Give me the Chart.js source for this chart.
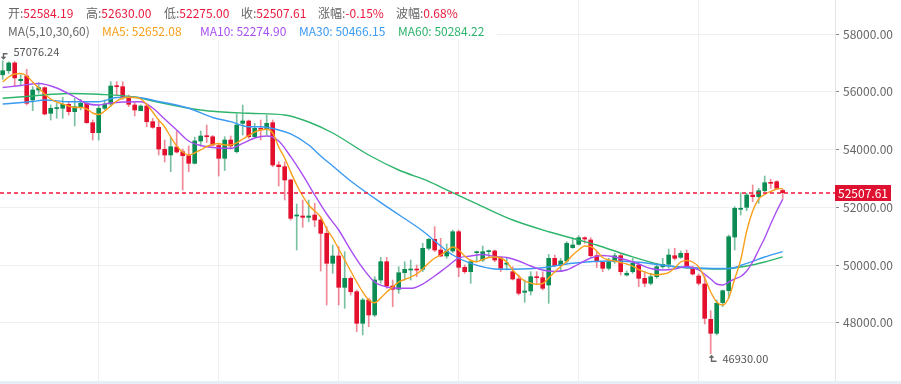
<!DOCTYPE html>
<html><head><meta charset="utf-8">
<script src="https://cdn.jsdelivr.net/npm/chart.js@4.4.1/dist/chart.umd.min.js"></script>
<style>html,body{margin:0;padding:0;background:#fff;}#wrap{width:901px;height:384px;position:relative;}</style>
</head><body><div id="wrap"><canvas id="c" width="901" height="384"></canvas></div>
<script>
// ---------- data ----------
const opens=[56590,56730,57000,56385,56547,55716,56062,56142,55255,55420,
 55429,55567,55311,55484,55602,54930,54584,55429,55578,56201,
 56177,55796,55543,55345,55508,54965,54770,54009,53811,54088,
 53925,53787,53524,54296,54469,54445,54140,53697,54331,53925,
 54909,54989,54445,54736,54701,54930,53465,53407,52946,51699,
 51699,51654,51734,51560,51100,50061,50314,49229,49541,49077,
 47983,48790,48271,49483,50116,49275,49160,49735,49829,49853,
 49853,50580,50892,50522,50314,50487,51155,49922,49770,50428,
 50175,50463,50487,50255,50030,49770,49517,49056,49102,49597,
 49562,49310,50234,49978,50140,50603,50718,50947,50868,50324,
 50095,49888,50116,50324,49656,49770,50002,49541,49368,49597,
 49943,50026,50324,50268,50407,49922,49621,49344,48121,47636,
 48700,49112,50970,51931,52000,52426,52368,52575,52852,52887,
 52584.19];
const highs=[57076.24,57040,57050,56590,56779,56177,56315,56177,55543,55602,
 55809,55657,55775,55740,55622,55023,55543,55716,56350,56350,
 56350,55889,55657,55543,55543,55082,55023,54331,54417,54642,
 54019,54123,54435,54642,54850,54487,54216,54445,54469,55231,
 55543,55023,54909,55023,55197,55023,53579,53579,52970,52114,
 52253,52253,52139,51619,51329,50695,50636,50463,49597,49136,
 48849,48849,49597,50268,50268,49483,49943,50116,50175,50002,
 50754,50927,51329,50927,50729,51214,51214,50002,50175,50487,
 50660,50522,50522,50290,50244,49943,49656,49483,49770,49770,
 49770,50372,50348,50234,50809,50927,51017,50982,50947,50463,
 50116,50234,50407,50372,49794,50234,50061,49770,49715,50061,
 50234,50556,50580,50487,50522,49967,49690,49621,48419,48790,
 49136,51041,52021,52506,52485,52773,52658,53084,52970,52921,
 52630];
const lows=[56430,56640,56200,56225,55543,55345,55948,55197,55023,55082,
 55082,55197,54816,55370,54909,54331,54331,55370,55484,55889,
 55740,55484,55162,55345,54791,54736,53811,53569,53233,53881,
 52599,53233,53500,54123,54244,54123,53084,53275,54019,53881,
 54504,54390,54417,54331,54504,53407,52738,52253,51560,50522,
 51308,51501,51329,49794,48617,49715,48617,48502,48963,47692,
 47578,47865,48212,49368,49195,48558,49022,49483,49483,49597,
 49770,50522,50463,50290,50234,50428,49597,49715,49368,50116,
 50116,50290,50116,49770,49829,49483,48963,48710,48963,49368,
 49136,48675,49943,49770,50061,50580,50695,50754,50290,49909,
 49770,49829,50061,49656,49621,49715,49251,49251,49310,49541,
 49888,49888,50175,50234,49888,49656,49310,47959,46930,47578,
 48558,48849,50522,51734,51883,52194,52139,52540,52658,52623,
 52275];
const closes=[56730,57000,56480,56433,55602,56062,56142,55231,55429,55432,
 55567,55311,55484,55602,54930,54584,55429,55578,56201,56177,
 55830,55567,55370,55508,54965,54770,54019,53811,54099,53915,
 53787,53524,54296,54469,54445,54158,53697,54331,54123,54850,
 54989,54445,54736,54701,54909,53465,53407,52946,51619,51722,
 51654,51699,51560,51100,50061,50314,49229,49541,49077,47983,
 48790,48271,49483,50116,49275,49160,49735,49853,49853,49829,
 50580,50892,50522,50314,50487,51155,49922,49770,50116,50463,
 50463,50487,50175,49888,50070,49517,49022,49102,49597,49562,
 49195,50234,49978,50140,50753,50695,50947,50902,50324,50116,
 49888,50116,50324,49770,49715,50061,49541,49368,49597,49943,
 50026,50348,50234,50407,49922,49690,49368,48156,47636,48676,
 49112,50982,51966,51966,52426,52368,52575,52852,52831,52658,
 52507.61];
const ma5=[56339,56513,56616,56634,56547,56339,56132,55924,55751,55647,
 55578,55508,55456,55456,55404,55266,55214,55335,55508,55681,
 55785,55809,55803,55751,55560,55300,55023,54781,54435,54123,
 53915,53811,53881,53985,54106,54175,54210,54158,54158,54227,
 54365,54487,54608,54677,54701,54573,54088,53707,53223,52773,
 52392,52080,51872,51664,51249,50937,50556,50175,49794,49413,
 49067,48790,48697,48860,49067,49240,49413,49500,49586,49690,
 49863,50071,50244,50348,50487,50625,50522,50314,50158,50116,
 50193,50262,50279,50244,50106,49829,49621,49448,49379,49334,
 49361,49552,49760,49950,50123,50348,50522,50660,50643,50487,
 50262,50175,50140,50089,50036,49967,49846,49760,49690,49656,
 49690,49742,49898,50106,50158,50106,49933,49552,49067,48721,
 48617,48859,49517,50175,51179,51872,52288,52443,52547,52634,
 52652.08];
const ma10Idx=[0,3,6,9,12,14,16,18,20,23,25,27,29,31,33,36,38,40,42,44,46,48,50,52,54,56,58,60,62,64,66,68,70,72,74,76,78,80,82,84,86,88,90,92,94,96,98,100,102,104,106,108,110,112,114,116,118,119,120,121,122,123,124,125,126,127,128,129,130];
const ma10=[56149,56218,56288,56132,55820,55595,55543,55612,55647,55657,55439,55058,54677,54296,54140,54054,54043,54216,54400,54469,54296,53752,53119,52426,51768,51214,50522,49898,49413,49240,49195,49195,49344,49621,49933,50244,50314,50366,50296,50262,50140,49967,49829,49777,49829,50036,50244,50331,50279,50175,50036,49881,49829,49863,49950,49829,49517,49344,49310,49413,49517,49604,49794,50106,50522,50937,51422,51872,52274.90];
const ma30Idx=[0,5,7,11,16,19,22,26,31,35,38,41,43,46,48,51,53,55,58,64,70,73,75,78,83,89,95,101,106,112,117,121,124,127,130];
const ma30=[55577,55664,55716,55657,55657,55803,55809,55664,55429,55110,54965,54791,54791,54677,54539,54158,53777,53430,52911,52021,51179,50660,50348,50061,49853,49888,50061,50140,50095,49943,49888,49881,50061,50279,50466.15];
const ma60Idx=[0,5,11,16,22,25,33,41,47,51,55,61,66,71,74,80,85,91,96,99,104,110,115,120,124,127,130];
const ma60=[55775,55855,55941,55913,55820,55680,55370,55255,55197,54954,54573,53811,53292,52900,52600,52021,51560,51155,50868,50695,50348,50002,49888,49863,49967,50106,50284.22];
const yTicks=[48000,50000,52000,54000,56000,58000];
const gridIdx=[16,36,56,76,96,116];
const headerRow1=[['开:',null,'open'],['高:',null,'high'],['低:',null,'low'],['收:',null,'close'],['涨幅:','-0.15%'],['波幅:','0.68%']];

// ---------- style ----------
const FONT='"Noto Sans CJK SC","Noto Sans",sans-serif';
const UP='#0b8c53', DOWN='#e3112e', UPW='rgba(11,140,83,0.55)', DOWNW='rgba(227,17,46,0.5)';
const C5='#f8a01c', C10='#a94ff2', C30='#3b9af2', C60='#2fb46c';
const last=closes.length-1;
const isUp=i=>closes[i]>=opens[i];
const idx=closes.map((_,i)=>i);

const overlay={
 id:'overlay',
 afterDatasetsDraw(chart){
  const {ctx,chartArea:a,scales:{x,y}}=chart;
  ctx.save();
  // last price line
  const py=Math.round(y.getPixelForValue(closes[last]));
  ctx.strokeStyle='#f0163a';ctx.lineWidth=1.4;ctx.setLineDash([4,3]);
  ctx.beginPath();ctx.moveTo(a.left,py);ctx.lineTo(a.right,py);ctx.stroke();
  ctx.setLineDash([]);
  ctx.fillStyle='#de1230';ctx.fillRect(a.right,py-8,56,16);
  ctx.fillStyle='#fff';ctx.font='12px '+FONT;ctx.textBaseline='middle';ctx.textAlign='left';
  ctx.fillText(closes[last].toFixed(2),a.right+3,py+0.5);
  // max / min markers
  let iMax=0,iMin=0;
  highs.forEach((v,i)=>{if(v>highs[iMax])iMax=i;});
  lows.forEach((v,i)=>{if(v<lows[iMin])iMin=i;});
  ctx.strokeStyle='#666';ctx.fillStyle='#555';ctx.font='11px '+FONT;
  let hx=Math.round(x.getPixelForValue(iMax))+0.5, hy=y.getPixelForValue(highs[iMax]);
  ctx.beginPath();ctx.moveTo(hx+4,hy-7);ctx.lineTo(hx,hy-7);ctx.lineTo(hx,hy-2);
  ctx.moveTo(hx-2,hy-4);ctx.lineTo(hx,hy-2);ctx.lineTo(hx+2,hy-4);ctx.stroke();
  ctx.fillText(highs[iMax].toFixed(2),hx+10,hy-8.5);
  let lx=Math.round(x.getPixelForValue(iMin))+0.5, ly=y.getPixelForValue(lows[iMin]);
  ctx.beginPath();ctx.moveTo(lx+5,ly+7.5);ctx.lineTo(lx,ly+7.5);ctx.lineTo(lx,ly+2);
  ctx.moveTo(lx-2,ly+4);ctx.lineTo(lx,ly+2);ctx.lineTo(lx+2,ly+4);ctx.stroke();
  ctx.fillText(lows[iMin].toFixed(2),lx+11,ly+5.5);
  ctx.restore();
 },
 afterDraw(chart){
  const ctx=chart.ctx;
  ctx.save();
  ctx.fillStyle='#fff';ctx.fillRect(0,0,497,40);
  ctx.fillStyle='#e8eef6';ctx.fillRect(0,381,901,3);
  ctx.font='12px '+FONT;ctx.textBaseline='middle';ctx.textAlign='left';
  const vals={open:opens[last],high:highs[last],low:lows[last],close:closes[last]};
  const xs1=[8,86,164,241,318,396];
  headerRow1.forEach((h,k)=>{
   const v=h[1]!==null?h[1]:vals[h[2]].toFixed(2);
   ctx.fillStyle='#666';ctx.fillText(h[0],xs1[k],13.5);
   const w=ctx.measureText(h[0]).width;
   ctx.fillStyle='#e8193c';ctx.fillText(v,xs1[k]+w,13.5);
  });
  const row2=[['MA(5,10,30,60)','#666',8],['MA5: '+ma5[ma5.length-1].toFixed(2),C5,102],
   ['MA10: '+ma10[ma10.length-1].toFixed(2),C10,200],['MA30: '+ma30[ma30.length-1].toFixed(2),C30,299],
   ['MA60: '+ma60[ma60.length-1].toFixed(2),C60,398]];
  row2.forEach(r=>{ctx.fillStyle=r[1];ctx.fillText(r[0],r[2],31.5);});
  ctx.restore();
 }
};

const lineDs=(ix,vals,color,ord)=>({type:'line',data:vals.map((v,k)=>({x:ix[k],y:v})),borderColor:color,borderWidth:1.4,
  pointRadius:0,fill:false,cubicInterpolationMode:'monotone',order:ord});

new Chart(document.getElementById('c'),{
 type:'line',
 data:{datasets:[
  {type:'bar',label:'wick',data:idx.map(i=>({x:i,y:[lows[i],highs[i]]})),
   backgroundColor:c=>isUp(c.dataIndex)?UPW:DOWNW,barThickness:1,grouped:false,order:6},
  {type:'bar',label:'body',data:idx.map(i=>({x:i,y:[opens[i],closes[i]]})),
   backgroundColor:c=>isUp(c.dataIndex)?UP:DOWN,barThickness:4,minBarLength:1,grouped:false,order:5},
  lineDs(ma60Idx,ma60,C60,4),
  lineDs(ma30Idx,ma30,C30,3),
  lineDs(ma10Idx,ma10,C10,2),
  lineDs(idx,ma5,C5,1)
 ]},
 options:{
  responsive:false,animation:false,devicePixelRatio:1,
  layout:{padding:{left:0,right:0,top:0,bottom:3}},
  plugins:{legend:{display:false},tooltip:{enabled:false}},
  scales:{
   x:{type:'linear',min:-0.45,max:-0.45+835/6,offset:false,
      grid:{color:'#edf0f3',drawTicks:false,offset:false},border:{display:false},
      ticks:{display:false},
      afterBuildTicks:s=>{s.ticks=gridIdx.map(v=>({value:v}));},
      afterFit:s=>{s.height=0;}},
   y:{type:'linear',position:'right',min:45985,max:59179,
      grid:{color:'#edf0f3',tickLength:4,tickColor:'#8a8a8a'},
      border:{color:'#e2e5ea'},
      ticks:{color:'#666',font:{family:FONT,size:12},padding:4,callback:v=>Number(v).toFixed(2)},
      afterBuildTicks:s=>{s.ticks=yTicks.map(v=>({value:v}));},
      afterFit:s=>{s.width=66;s.paddingTop=0;s.paddingBottom=0;}}
  }
 },
 plugins:[overlay]
});
</script></body></html>
